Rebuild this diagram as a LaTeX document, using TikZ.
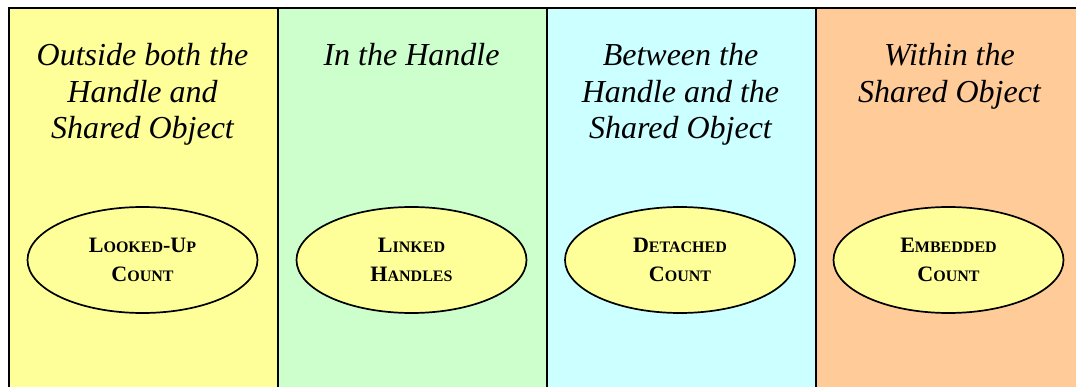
\documentclass[tikz,border=0pt]{standalone}
\usepackage{fontspec}
\setmainfont{Liberation Serif}
\usetikzlibrary{shapes.geometric}
\definecolor{colyellow}{HTML}{FFFF99}
\definecolor{colgreen}{HTML}{CCFFCC}
\definecolor{colcyan}{HTML}{CCFFFF}
\definecolor{colorange}{HTML}{FFCC99}
% faked small capitals: large initial, smaller remaining capitals
\newcommand{\scbig}[1]{{\fontsize{22}{24}\selectfont #1}}
\newcommand{\scsmall}[1]{{\fontsize{16}{24}\selectfont #1}}
\tikzset{
  column/.style={draw=black, line width=1.5pt, minimum width=269pt,
    minimum height=420pt, anchor=north west, inner sep=0pt},
  heading/.style={anchor=base, align=center, inner sep=0pt,
    font=\fontsize{32}{36.5}\selectfont\itshape},
  counter/.style={ellipse, draw=black, line width=1.7pt, fill=colyellow,
    minimum width=230pt, minimum height=106pt, inner sep=0pt,
    align=center, font=\bfseries\fontsize{22}{29}\selectfont}
}
\begin{document}
\begin{tikzpicture}[x=1pt, y=-1pt]
\useasboundingbox (0,0) rectangle (1076,387);
\clip (0,0) rectangle (1076,387);
\fill[white] (0,0) rectangle (1076,387);

\node[column, fill=colyellow] (c1) at (8,7.5) {};
\node[column, fill=colgreen]  (c2) at (277,7.5) {};
\node[column, fill=colcyan]   (c3) at (546,7.5) {};
\node[column, fill=colorange] (c4) at (815,7.5) {};

% headings are placed by the baseline of their last line
\node[heading] (h1) at (142.5,139) {Outside both the\\Handle and\\Shared Object};
\node[heading] (h2) at (411.5,66) {In the Handle};
\node[heading] (h3) at (680.5,139) {Between the\\Handle and the\\Shared Object};
\node[heading] (h4) at (949.5,102.5) {Within the\\Shared Object};

\node[counter] (e1) at (142.5,260)
  {\scbig{L}\scsmall{OOKED}\scbig{-U}\scsmall{P}\\\scbig{C}\scsmall{OUNT}};
\node[counter] (e2) at (411.5,260)
  {\scbig{L}\scsmall{INKED}\\\scbig{H}\scsmall{ANDLES}};
\node[counter] (e3) at (680,260)
  {\scbig{D}\scsmall{ETACHED}\\\scbig{C}\scsmall{OUNT}};
\node[counter] (e4) at (948.5,260)
  {\scbig{E}\scsmall{MBEDDED}\\\scbig{C}\scsmall{OUNT}};
\end{tikzpicture}
\end{document}
